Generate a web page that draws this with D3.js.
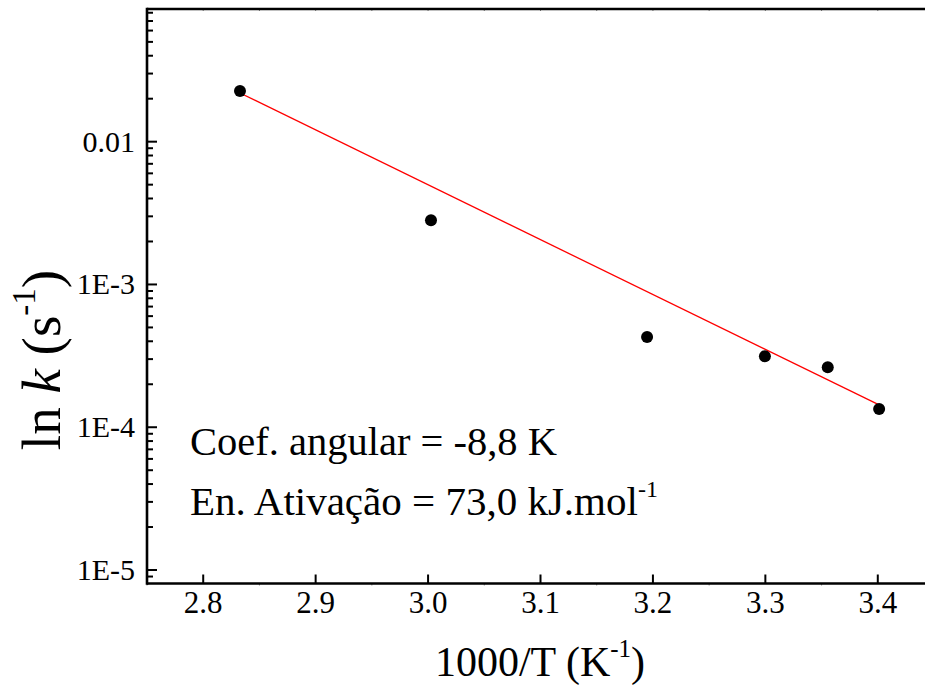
<!DOCTYPE html>
<html>
<head>
<meta charset="utf-8">
<script src="https://cdn.jsdelivr.net/npm/d3@7"></script>
<style>
  html, body { margin: 0; padding: 0; background: #fff; }
  svg, svg text { font-family: "Liberation Serif", "Times New Roman", Tinos, "DejaVu Serif", serif; }
</style>
</head>
<body>
<svg id="chart" width="925" height="689" font-family="Liberation Serif, Times New Roman, DejaVu Serif, serif"></svg>
<script>
// ---- Data ----
const invT = [2.8327, 3.0026, 3.1948, 3.2996, 3.3555, 3.4012];
const rateK = [0.02265, 0.002816, 0.000429, 0.000314, 0.000263, 0.0001343];
const fitX = [2.8327, 3.4012];
const fitK = [0.02193, 0.0001433];
const xTicks = [2.8, 2.9, 3.0, 3.1, 3.2, 3.3, 3.4];
const xTickLabels = ["2.8", "2.9", "3.0", "3.1", "3.2", "3.3", "3.4"];
const yTicks = [1e-5, 1e-4, 1e-3, 1e-2];
const yTickLabels = ["1E-5", "1E-4", "1E-3", "0.01"];

(function () {
const FONT = "'Liberation Serif', 'Times New Roman', 'DejaVu Serif', serif";
const svg = d3.select("#chart");

const x = d3.scaleLinear().domain([2.75, 3.45]).range([147, 934]);
const y = d3.scaleLog().domain([Math.pow(10, -5.0945), Math.pow(10, -1.0707)]).range([583.5, 9]);

const pLeft = x.range()[0], pRight = x.range()[1];
const pBottom = y.range()[0], pTop = y.range()[1];

const xMinor = d3.range(2.75, 3.46, 0.05).filter(v => !xTicks.some(t => Math.abs(t - v) < 1e-6));
const yMinor = [];
for (let e = -6; e <= -1; e++) {
  for (let m = 2; m <= 9; m++) {
    const v = m * Math.pow(10, e);
    if (v >= y.domain()[0] && v <= y.domain()[1]) yMinor.push(v);
  }
}

const axisG = svg.append("g");

axisG.selectAll(".xmaj").data(xTicks).enter().append("line")
  .attr("x1", d => x(d)).attr("x2", d => x(d))
  .attr("y1", pBottom).attr("y2", pBottom - 9)
  .attr("stroke", "#000").attr("stroke-width", 2);
axisG.selectAll(".xmin").data(xMinor).enter().append("line")
  .attr("x1", d => x(d)).attr("x2", d => x(d))
  .attr("y1", pBottom).attr("y2", pBottom + 2)
  .attr("stroke", "#888").attr("stroke-width", 1);
axisG.selectAll(".xtop").data(xTicks.concat(xMinor)).enter().append("line")
  .attr("x1", d => x(d)).attr("x2", d => x(d))
  .attr("y1", pTop).attr("y2", pTop + 2)
  .attr("stroke", "#888").attr("stroke-width", 1);

axisG.selectAll(".ymaj").data(yTicks).enter().append("line")
  .attr("x1", pLeft).attr("x2", pLeft + 10)
  .attr("y1", d => y(d)).attr("y2", d => y(d))
  .attr("stroke", "#000").attr("stroke-width", 2);
axisG.selectAll(".ymin").data(yMinor).enter().append("line")
  .attr("x1", pLeft).attr("x2", pLeft + 6)
  .attr("y1", d => y(d)).attr("y2", d => y(d))
  .attr("stroke", "#000").attr("stroke-width", 2);

axisG.append("line").attr("x1", pLeft).attr("x2", pRight).attr("y1", pBottom).attr("y2", pBottom)
  .attr("stroke", "#000").attr("stroke-width", 2.6);
axisG.append("line").attr("x1", pLeft).attr("x2", pRight).attr("y1", pTop).attr("y2", pTop)
  .attr("stroke", "#000").attr("stroke-width", 2.6);
axisG.append("line").attr("x1", pLeft).attr("x2", pLeft).attr("y1", pTop - 1.3).attr("y2", pBottom + 1.3)
  .attr("stroke", "#000").attr("stroke-width", 2.6);

svg.selectAll(".xl").data(xTicks).enter().append("text")
  .attr("x", d => x(d)).attr("y", 613).attr("font-family", FONT)
  .attr("text-anchor", "middle").attr("font-size", 31).attr("fill", "#000")
  .text((d, i) => xTickLabels[i]);
svg.selectAll(".yl").data(yTicks).enter().append("text")
  .attr("x", 135).attr("y", d => y(d) + 10).attr("font-family", FONT)
  .attr("text-anchor", "end").attr("font-size", 30).attr("fill", "#000")
  .text((d, i) => yTickLabels[i]);

const line = d3.line().x(d => x(d[0])).y(d => y(d[1]));
svg.append("path").datum(fitX.map((v, i) => [v, fitK[i]]))
  .attr("d", line).attr("fill", "none").attr("stroke", "#ff0000").attr("stroke-width", 1.3);

svg.selectAll(".pt").data(invT.map((v, i) => [v, rateK[i]])).enter().append("circle")
  .attr("cx", d => x(d[0])).attr("cy", d => y(d[1])).attr("r", 6).attr("fill", "#000");

const xt = svg.append("text").attr("x", 540).attr("y", 676).attr("text-anchor", "middle")
  .attr("font-family", FONT).attr("font-size", 42).attr("fill", "#000");
xt.append("tspan").text("1000/T (K");
xt.append("tspan").attr("font-size", 25).attr("dy", -19).text("-1");
xt.append("tspan").attr("dy", 19).text(")");

const yt = svg.append("text").attr("transform", "translate(60,360) rotate(-90)")
  .attr("font-family", FONT).attr("text-anchor", "middle").attr("font-size", 55).attr("fill", "#000");
yt.append("tspan").text("ln ");
yt.append("tspan").attr("font-style", "italic").text("k");
yt.append("tspan").text(" (s");
yt.append("tspan").attr("font-size", 33).attr("dy", -25).text("-1");
yt.append("tspan").attr("dy", 25).text(")");

svg.append("text").attr("x", 190).attr("y", 455).attr("font-family", FONT)
  .attr("font-size", 40.5).attr("fill", "#000")
  .text("Coef. angular = -8,8 K");
const an = svg.append("text").attr("x", 190).attr("y", 515).attr("font-family", FONT)
  .attr("font-size", 41).attr("fill", "#000");
an.append("tspan").text("En. Ativação = 73,0 kJ.mol");
an.append("tspan").attr("font-size", 24).attr("dy", -18).text("-1");
})();
</script>
</body>
</html>
